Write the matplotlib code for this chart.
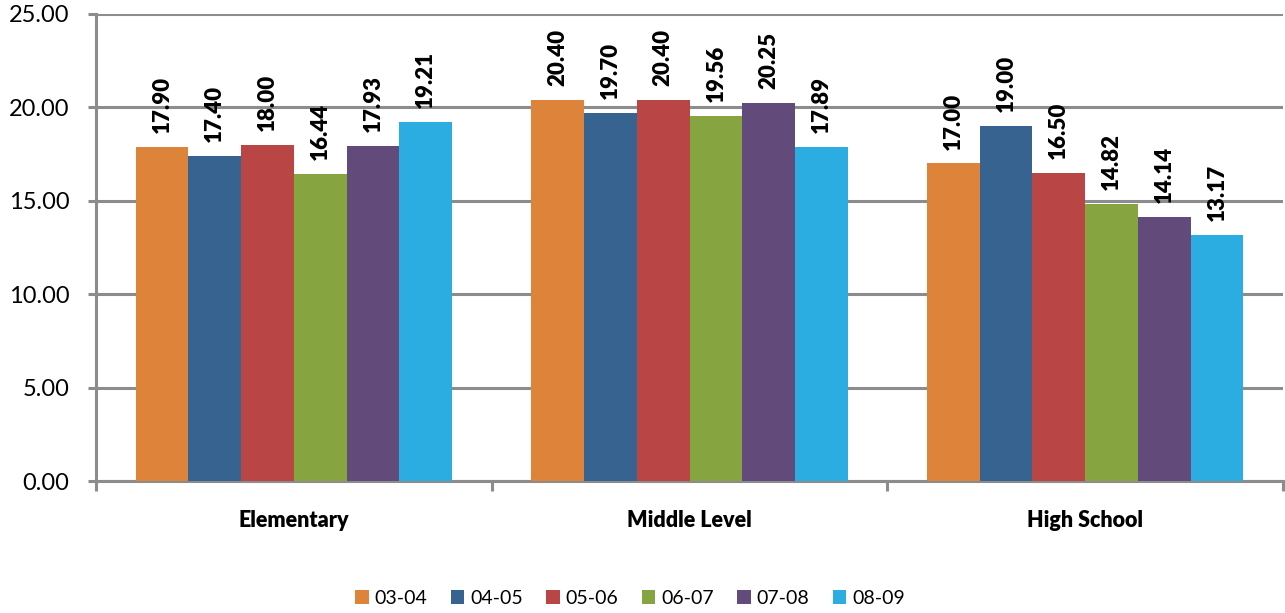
import numpy as np
import matplotlib
matplotlib.use("Agg")
import matplotlib.pyplot as plt

######################################################################
# DATA

categories = ["Elementary", "Middle Level", "High School"]
years = ["03-04", "04-05", "05-06", "06-07", "07-08", "08-09"]
values = [
    [17.90, 20.40, 17.00],   # 03-04
    [17.40, 19.70, 19.00],   # 04-05
    [18.00, 20.40, 16.50],   # 05-06
    [16.44, 19.56, 14.82],   # 06-07
    [17.93, 20.25, 14.14],   # 07-08
    [19.21, 17.89, 13.17],   # 08-09
]
y_ticks = [0, 5, 10, 15, 20, 25]

colors = ["#DD843A", "#376391", "#BA4545", "#86A541", "#624A7B", "#2BADE2"]
grid_gray = "#8C8C8C"

######################################################################
# PLOT

plt.rcParams['font.family'] = ['Lato', 'DejaVu Sans']

fig = plt.figure(figsize=(12.85, 6.13), dpi=100)
ax = fig.add_axes([96 / 1285, 1 - 481 / 613, (1283 - 96) / 1285, (481 - 14) / 613])

x = np.arange(len(categories))
n = len(years)
bw = 0.8 / n

for i, (yr, vals) in enumerate(zip(years, values)):
    pos = x - 0.4 + bw * (i + 0.5)
    bars = ax.bar(pos, vals, width=bw, color=colors[i], label=yr, zorder=3)
    for b, v in zip(bars, vals):
        ax.annotate(f"{v:.2f}", (b.get_x() + b.get_width() / 2, v),
                    xytext=(0, 10), textcoords="offset points",
                    rotation=90, ha="center", va="bottom",
                    fontsize=16, fontweight="heavy", zorder=4)

ax.set_xlim(-0.5, len(categories) - 0.5)
ax.set_ylim(0, 25)
ax.set_yticks(y_ticks)
ax.set_yticklabels([f"{t:.2f}" for t in y_ticks], fontsize=17)
ax.yaxis.grid(True, color=grid_gray, linewidth=2.2, zorder=0)
ax.tick_params(axis="y", length=6, width=2.2, color=grid_gray, pad=13)

# category labels between boundary ticks
ax.set_xticks(np.arange(len(categories) + 1) - 0.5)
ax.set_xticklabels([])
ax.set_xticks(x, minor=True)
ax.set_xticklabels(categories, minor=True, fontsize=15.5, fontweight="heavy")
ax.tick_params(axis="x", which="major", length=7, width=2.2, color=grid_gray)
ax.tick_params(axis="x", which="minor", length=0, pad=21)

for s in ["top", "right"]:
    ax.spines[s].set_visible(False)
for s in ["left", "bottom"]:
    ax.spines[s].set_color(grid_gray)
    ax.spines[s].set_linewidth(2.2)

fig.legend(loc="center", bbox_to_anchor=(630 / 1285, 1 - 598 / 613),
           ncol=n, frameon=False, fontsize=14, handlelength=0.7,
           handleheight=0.7, handletextpad=0.3, columnspacing=1.2)

fig.savefig("out.png", dpi=100)
